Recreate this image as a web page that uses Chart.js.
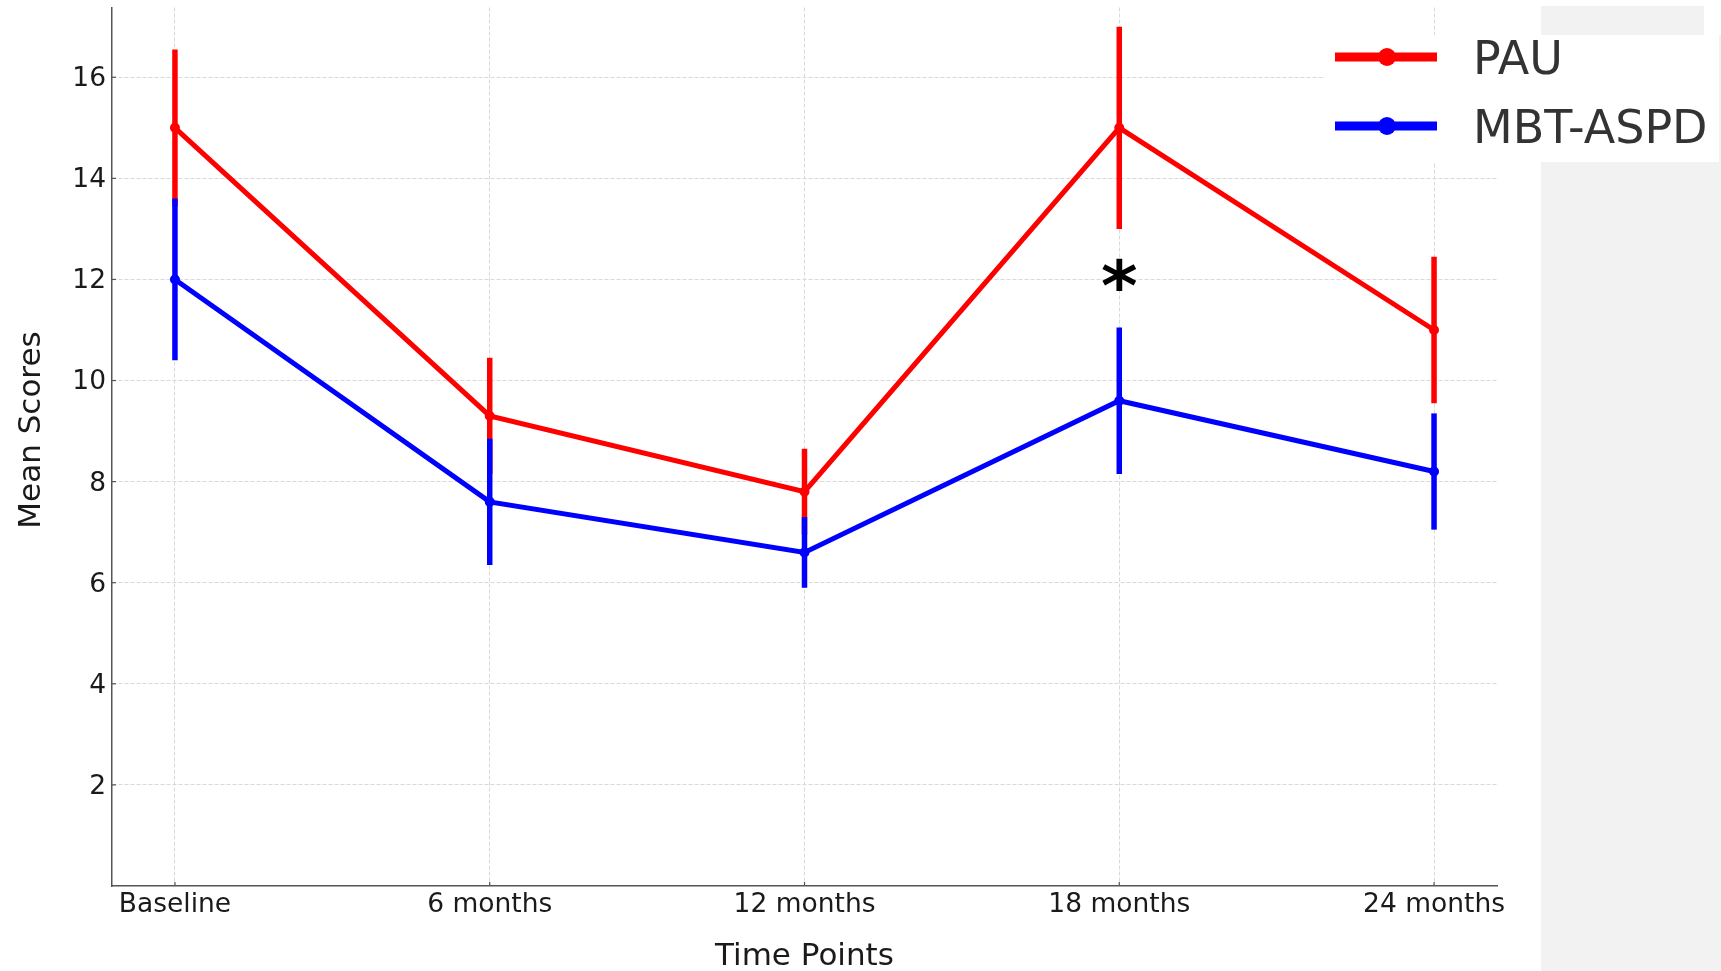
<!DOCTYPE html>
<html>
<head>
<meta charset="utf-8">
<script src="https://cdn.jsdelivr.net/npm/chart.js@4.4.1/dist/chart.umd.min.js"></script>
<style>
  html, body { margin: 0; padding: 0; background: #fff; }
  canvas { display: block; }
</style>
</head>
<body>
<canvas id="chart" width="1721" height="971"></canvas>
<script>
const categories = ['Baseline', '6 months', '12 months', '18 months', '24 months']
const pauMeans = [15, 9.3, 7.8, 15, 11]
const pauErrors = [1.55, 1.15, 0.85, 2.0, 1.45]
const mbtMeans = [12, 7.6, 6.6, 9.6, 8.2]
const mbtErrors = [1.6, 1.25, 0.7, 1.45, 1.15]
const yTicks = [2, 4, 6, 8, 10, 12, 14, 16]
// significance marker (*) at 18 months
const sigIndex = [3]
const sigValue = [12.1]

Chart.defaults.font.family = 'DejaVu Sans'
Chart.defaults.color = '#1a1a1a'

const toPoints = (arr) => arr.map((v, i) => ({ x: i, y: v }))

// white page + grey strip on the right (as in the original image)
const pageBackground = {
  id: 'pageBackground',
  beforeDraw(chart) {
    const { ctx, width, height } = chart
    ctx.save()
    ctx.fillStyle = '#ffffff'
    ctx.fillRect(0, 0, width, height)
    ctx.fillStyle = '#f2f2f2'
    ctx.fillRect(1541, 6, width - 1541, height - 6)
    ctx.fillStyle = '#ffffff'
    ctx.fillRect(1704, 0, width - 1704, 35)
    ctx.restore()
  },
}

// vertical error bars, drawn right after each dataset
const errorBars = {
  id: 'errorBars',
  afterDatasetDraw(chart, args) {
    const ds = chart.data.datasets[args.index]
    if (!ds.errors) return
    const { ctx, scales } = chart
    ctx.save()
    ctx.strokeStyle = ds.borderColor
    ctx.lineWidth = 5.5
    ctx.lineCap = 'butt'
    ds.data.forEach((p, i) => {
      const x = scales.x.getPixelForValue(p.x)
      ctx.beginPath()
      ctx.moveTo(x, scales.y.getPixelForValue(p.y - ds.errors[i]))
      ctx.lineTo(x, scales.y.getPixelForValue(p.y + ds.errors[i]))
      ctx.stroke()
    })
    ctx.restore()
  },
}

// inward tick marks, axis titles, asterisk, legend
const decorations = {
  id: 'decorations',
  afterDraw(chart) {
    const { ctx, scales, chartArea } = chart
    ctx.save()
    // tick marks
    ctx.strokeStyle = '#555'
    ctx.lineWidth = 1.2
    categories.forEach((c, i) => {
      const x = scales.x.getPixelForValue(i)
      ctx.beginPath()
      ctx.moveTo(x, chartArea.bottom)
      ctx.lineTo(x, chartArea.bottom - 4)
      ctx.stroke()
    })
    yTicks.forEach((v) => {
      const y = scales.y.getPixelForValue(v)
      ctx.beginPath()
      ctx.moveTo(chartArea.left, y)
      ctx.lineTo(chartArea.left + 4, y)
      ctx.stroke()
    })

    // axis titles
    ctx.fillStyle = '#1a1a1a'
    ctx.font = '31px "DejaVu Sans"'
    ctx.textAlign = 'center'
    ctx.textBaseline = 'alphabetic'
    ctx.fillText('Time Points', (chartArea.left + chartArea.right) / 2, 965)
    ctx.save()
    ctx.translate(40, 430)
    ctx.rotate(-Math.PI / 2)
    ctx.fillText('Mean Scores', 0, 0)
    ctx.restore()

    // asterisk
    ctx.fillStyle = '#000'
    ctx.font = 'bold 70px "DejaVu Sans"'
    sigIndex.forEach((idx, k) => {
      const m = ctx.measureText('*')
      const x = scales.x.getPixelForValue(idx)
      const y = scales.y.getPixelForValue(sigValue[k])
      const mid = (m.actualBoundingBoxAscent - m.actualBoundingBoxDescent) / 2
      ctx.fillText('*', x, y + mid)
    })

    // legend
    ctx.fillStyle = '#ffffff'
    ctx.fillRect(1325, 35, 394, 127)
    const rows = [57, 126]
    chart.data.datasets.forEach((ds, i) => {
      const y = rows[i]
      ctx.strokeStyle = ds.borderColor
      ctx.lineWidth = 9
      ctx.beginPath()
      ctx.moveTo(1335, y)
      ctx.lineTo(1437, y)
      ctx.stroke()
      ctx.fillStyle = ds.borderColor
      ctx.beginPath()
      ctx.arc(1387, y, 9, 0, Math.PI * 2)
      ctx.fill()
      ctx.fillStyle = '#333'
      ctx.font = '46px "DejaVu Sans"'
      ctx.textAlign = 'left'
      ctx.textBaseline = 'alphabetic'
      ctx.fillText(ds.label, 1473, y + 17)
    })
    ctx.restore()
  },
}

new Chart(document.getElementById('chart'), {
  type: 'line',
  data: {
    datasets: [
      {
        label: 'PAU',
        data: toPoints(pauMeans),
        errors: pauErrors,
        borderColor: '#ff0000',
        backgroundColor: '#ff0000',
        borderWidth: 5,
        pointRadius: 2.5,
        pointHoverRadius: 2.5,
        tension: 0,
        order: 2,
      },
      {
        label: 'MBT-ASPD',
        data: toPoints(mbtMeans),
        errors: mbtErrors,
        borderColor: '#0000ff',
        backgroundColor: '#0000ff',
        borderWidth: 5,
        pointRadius: 2.5,
        pointHoverRadius: 2.5,
        tension: 0,
        order: 1,
      },
    ],
  },
  options: {
    responsive: false,
    animation: false,
    devicePixelRatio: 1,
    layout: { padding: { left: 0, top: 6, right: 224, bottom: 0 } },
    plugins: {
      legend: { display: false },
      tooltip: { enabled: false },
    },
    scales: {
      x: {
        type: 'linear',
        min: -0.2,
        max: 4.2,
        afterBuildTicks: (scale) => {
          scale.ticks = categories.map((c, i) => ({ value: i }))
        },
        afterFit: (scale) => {
          scale.height = 85
          scale.paddingLeft = 0
          scale.paddingRight = 0
        },
        ticks: {
          callback: (v) => categories[v],
          font: { size: 26.5 },
          color: '#1a1a1a',
          padding: 3,
          maxRotation: 0,
          autoSkip: false,
        },
        grid: { color: '#d9d9d9', lineWidth: 1, drawTicks: false },
        border: { color: '#555', width: 1.5, dash: [4, 2] },
      },
      y: {
        min: 0,
        max: 17.38,
        afterBuildTicks: (scale) => {
          scale.ticks = yTicks.map((v) => ({ value: v }))
        },
        afterFit: (scale) => {
          scale.width = 112
          scale.paddingTop = 0
          scale.paddingBottom = 0
        },
        ticks: {
          font: { size: 26.5 },
          color: '#1a1a1a',
          padding: 6,
          labelOffset: 2,
        },
        grid: { color: '#d9d9d9', lineWidth: 1, drawTicks: false },
        border: { color: '#555', width: 1.5, dash: [4, 2] },
      },
    },
  },
  plugins: [pageBackground, errorBars, decorations],
})
</script>
</body>
</html>
